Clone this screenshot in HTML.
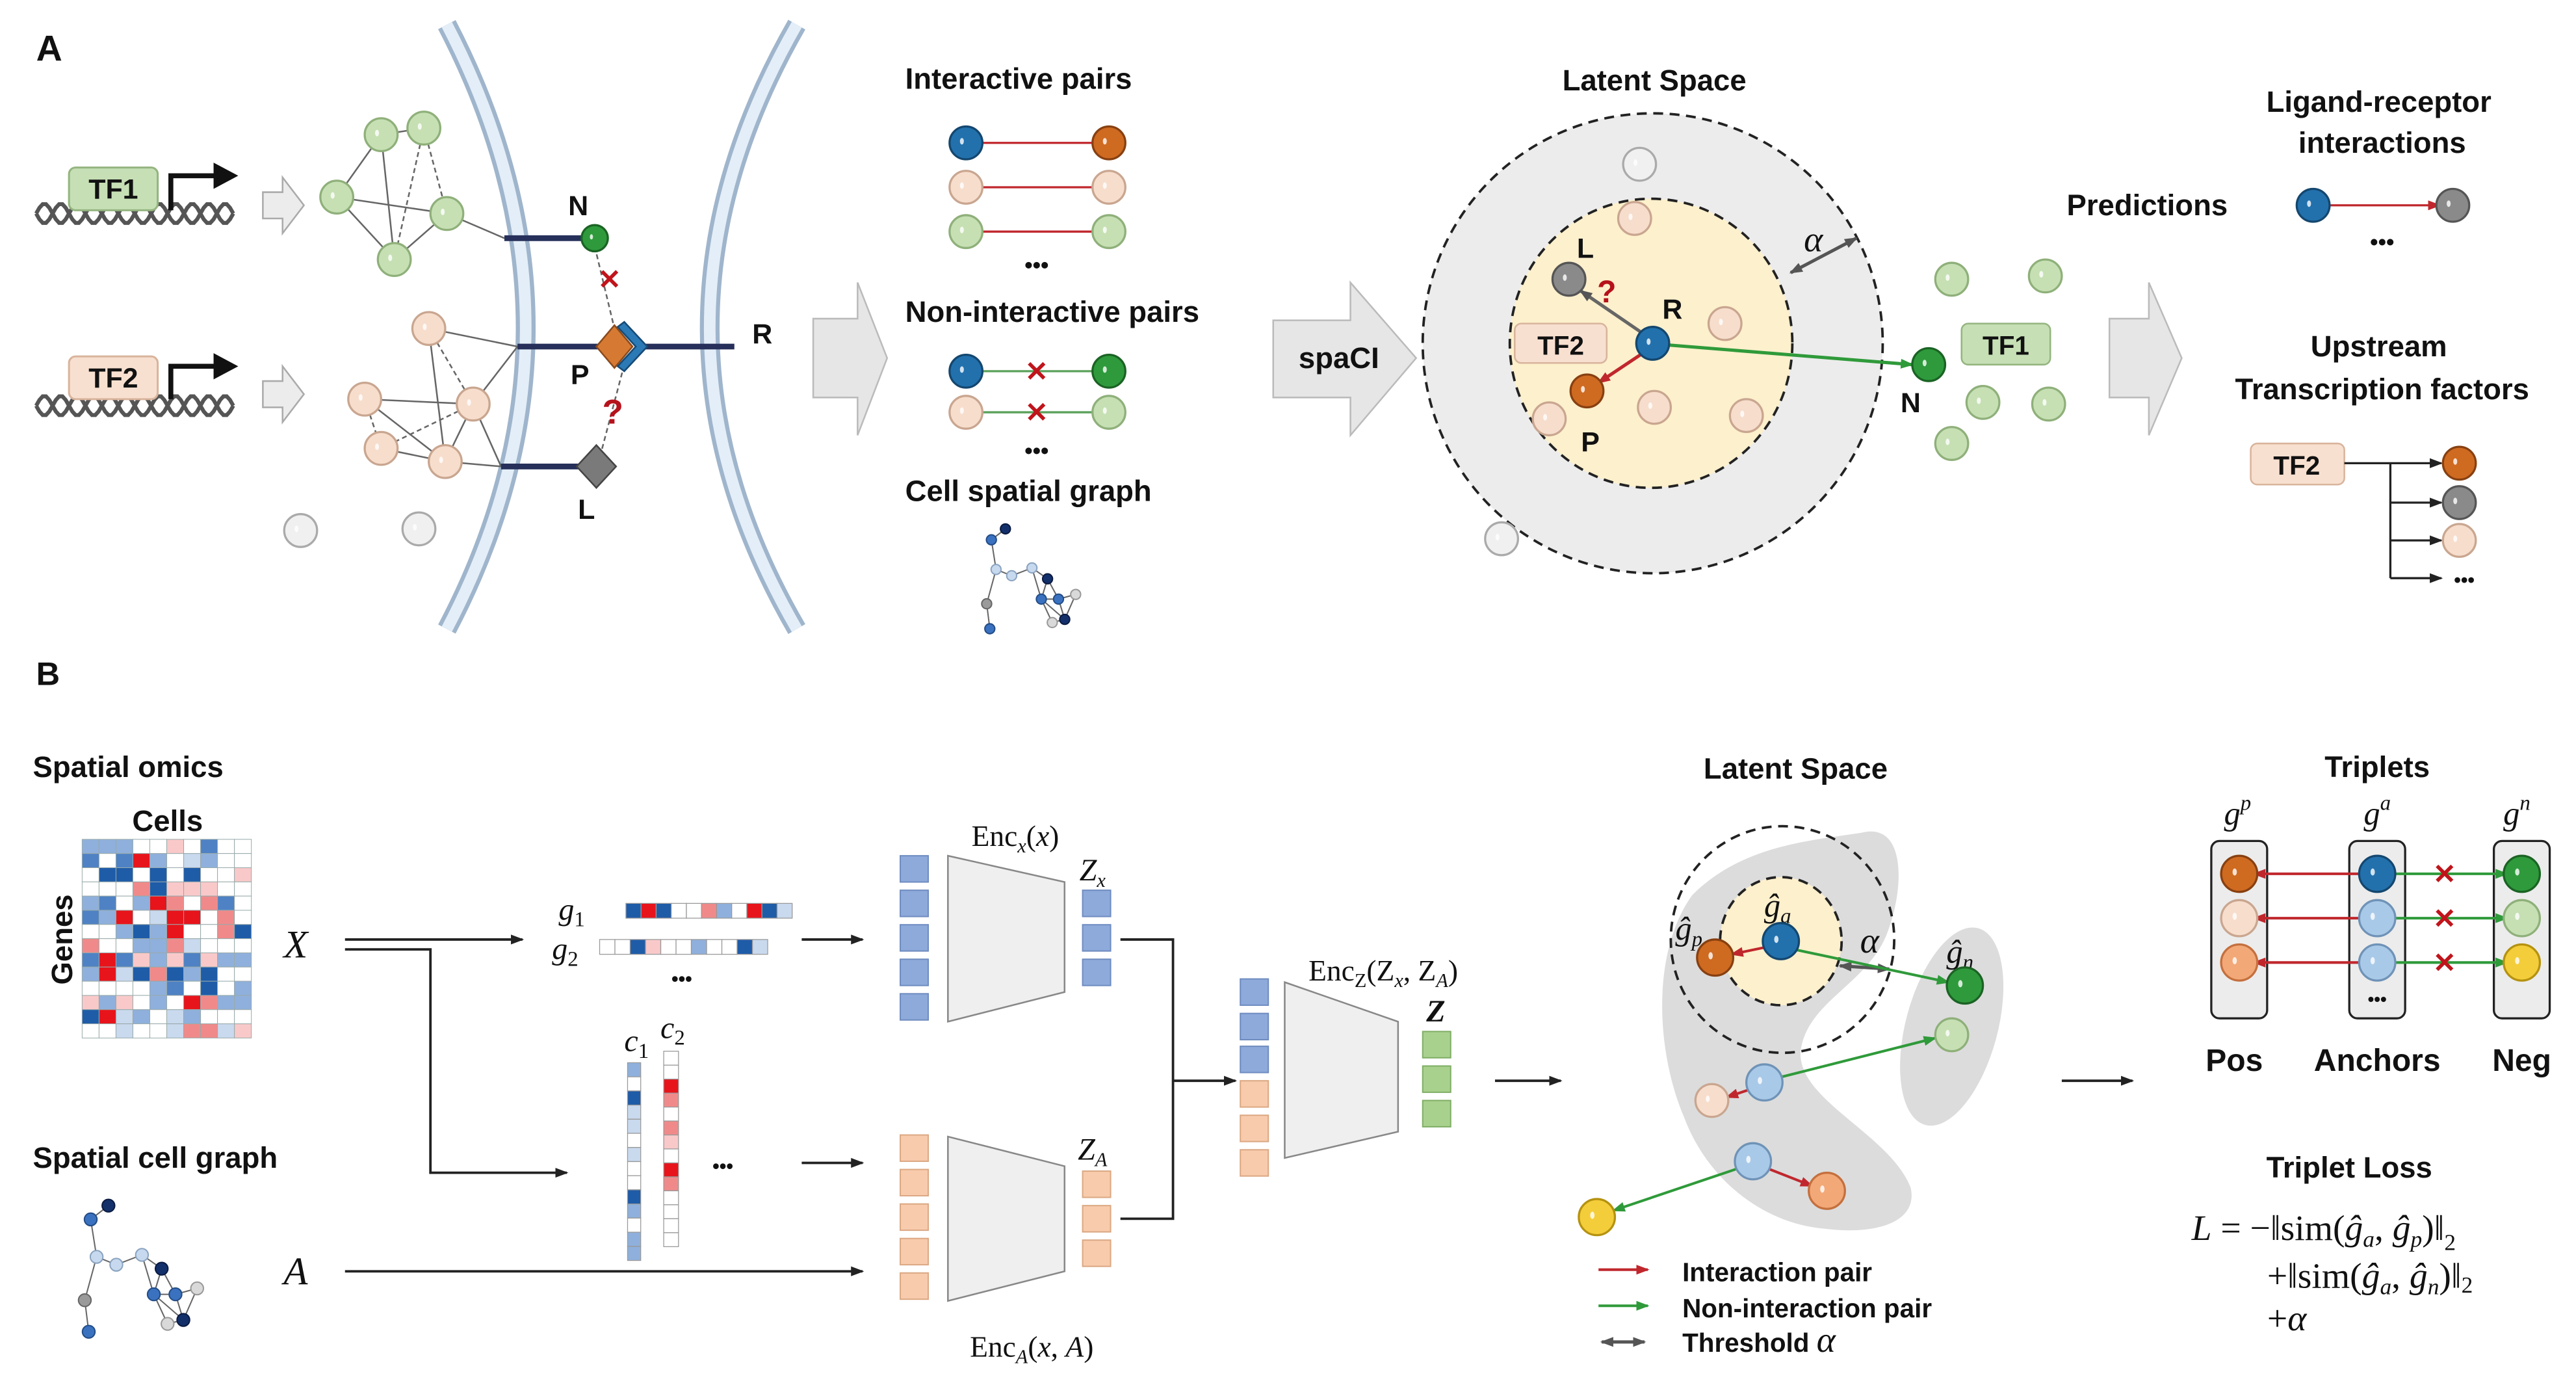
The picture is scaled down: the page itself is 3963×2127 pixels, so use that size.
<!DOCTYPE html>
<html><head><meta charset="utf-8"><style>
html,body{margin:0;padding:0;background:#fff;}
svg{display:block;}
.t{font-family:"Liberation Sans",Arial,sans-serif;font-weight:bold;fill:#111;}
.m{font-family:"Liberation Serif","DejaVu Serif",serif;font-style:italic;fill:#111;}
.r{font-family:"Liberation Serif","DejaVu Serif",serif;fill:#111;}
</style></head><body>
<svg id="s" width="3963" height="2127" viewBox="0 0 1568 842" preserveAspectRatio="none" xmlns="http://www.w3.org/2000/svg">
<defs>
<marker id="ak" markerWidth="8" markerHeight="8" refX="7" refY="4" orient="auto" markerUnits="userSpaceOnUse"><path d="M0,1 L8,4 L0,7z" fill="#222"/></marker>
<marker id="ar" markerWidth="8" markerHeight="8" refX="7" refY="4" orient="auto" markerUnits="userSpaceOnUse"><path d="M0,1 L8,4 L0,7z" fill="#c0272d"/></marker>
<marker id="ag" markerWidth="8" markerHeight="8" refX="7" refY="4" orient="auto" markerUnits="userSpaceOnUse"><path d="M0,1 L8,4 L0,7z" fill="#2f9a3a"/></marker>
<marker id="ay" markerWidth="8" markerHeight="8" refX="7" refY="4" orient="auto" markerUnits="userSpaceOnUse"><path d="M0,1 L8,4 L0,7z" fill="#555"/></marker>
<marker id="ays" markerWidth="8" markerHeight="8" refX="1" refY="4" orient="auto" markerUnits="userSpaceOnUse"><path d="M8,1 L0,4 L8,7z" fill="#555"/></marker>
</defs>

<text class="t" x="22" y="37" font-size="22">A</text>
<g id="dna" fill="none" stroke="#555" stroke-width="2.4"></g>
<rect x="42" y="102" width="54" height="26" rx="4" fill="#c6dfb5" stroke="#94b57f" stroke-width="1.2"/>
<text class="t" x="69" y="121" font-size="17" text-anchor="middle">TF1</text>
<path d="M104,128 V107 H132" fill="none" stroke="#111" stroke-width="3"/><path d="M130,99 L145,107 L130,115z" fill="#111"/>
<rect x="42" y="217" width="54" height="26" rx="4" fill="#f8e0d0" stroke="#d8b49c" stroke-width="1.2"/>
<text class="t" x="69" y="236" font-size="17" text-anchor="middle">TF2</text>
<path d="M104,243 V223 H132" fill="none" stroke="#111" stroke-width="3"/><path d="M130,215 L145,223 L130,231z" fill="#111"/>
<path d="M160,117 H172 V108 L185,125 L172,142 V133 H160z" fill="#ececec" stroke="#aaa" stroke-width="1"/>
<path d="M160,232 H172 V223 L185,240 L172,257 V248 H160z" fill="#ececec" stroke="#aaa" stroke-width="1"/>

<g fill="none">
<path d="M272,15 Q368,200 272,383" stroke="#9fb5cc" stroke-width="12"/>
<path d="M272,15 Q368,200 272,383" stroke="#e4eef8" stroke-width="7"/>
<path d="M485,15 Q379,200 485,383" stroke="#9fb5cc" stroke-width="12"/>
<path d="M485,15 Q379,200 485,383" stroke="#e4eef8" stroke-width="7"/>
</g>
<g stroke="#666" stroke-width="1" fill="none">
<line x1="232" y1="82" x2="258" y2="78"/><line x1="232" y1="82" x2="205" y2="120"/><line x1="232" y1="82" x2="240" y2="158"/>
<line x1="258" y1="78" x2="272" y2="130" stroke-dasharray="3,2"/><line x1="258" y1="78" x2="240" y2="158" stroke-dasharray="3,2"/>
<line x1="205" y1="120" x2="272" y2="130"/><line x1="205" y1="120" x2="240" y2="158"/><line x1="272" y1="130" x2="240" y2="158"/>
<line x1="272" y1="130" x2="307" y2="145"/>
<line x1="261" y1="200" x2="315" y2="211"/><line x1="261" y1="200" x2="288" y2="246" stroke-dasharray="3,2"/><line x1="261" y1="200" x2="271" y2="281"/>
<line x1="222" y1="243" x2="288" y2="246"/><line x1="222" y1="243" x2="232" y2="273" stroke-dasharray="3,2"/><line x1="222" y1="243" x2="271" y2="281"/>
<line x1="288" y1="246" x2="232" y2="273" stroke-dasharray="3,2"/><line x1="288" y1="246" x2="315" y2="211"/><line x1="288" y1="246" x2="271" y2="281"/><line x1="288" y1="246" x2="305" y2="284"/>
<line x1="232" y1="273" x2="271" y2="281"/><line x1="271" y1="281" x2="305" y2="284"/>
</g>
<g stroke="#26305a" stroke-width="3.5">
<line x1="307" y1="145" x2="355" y2="145"/><line x1="315" y1="211" x2="366" y2="211"/><line x1="392" y1="211" x2="447" y2="211"/><line x1="305" y1="284" x2="354" y2="284"/>
</g>
<line x1="362" y1="150" x2="374" y2="200" stroke="#666" stroke-dasharray="3,2"/>
<line x1="380" y1="222" x2="366" y2="275" stroke="#666" stroke-dasharray="3,2"/>
<path d="M374,198 L385,211 L374,224 L363,211z" fill="#d67a33" stroke="#8a4a1c"/>
<path d="M380,196 L394,211 L380,226 L376,223 L387,211 L376,199z" fill="#2b79b5" stroke="#164a75"/>
<path d="M363,271 L375,284 L363,297 L351,284z" fill="#7a7a7a" stroke="#444"/>
<text class="t" x="352" y="131" font-size="17" text-anchor="middle">N</text>
<text class="t" x="464" y="209" font-size="17" text-anchor="middle">R</text>
<text class="t" x="353" y="234" font-size="17" text-anchor="middle">P</text>
<text class="t" x="357" y="316" font-size="17" text-anchor="middle">L</text>
<text class="t" x="371" y="176" font-size="17" style="fill:#c0141b" text-anchor="middle">✕</text>
<text class="t" x="373" y="258" font-size="21" style="fill:#b5121b" text-anchor="middle">?</text>

<path d="M495,194 H522 V172 L540,218 L522,265 V242 H495z" fill="#e6e6e6" stroke="#bbb"/>
<path d="M775,195 H822 V172 L862,218 L822,265 V242 H775z" fill="#e6e6e6" stroke="#bbb"/>
<text class="t" x="815" y="224" font-size="18" text-anchor="middle">spaCI</text>
<path d="M1284,194 H1308 V172 L1328,218 L1308,265 V242 H1284z" fill="#e6e6e6" stroke="#bbb"/>

<text class="t" x="551" y="54" font-size="18">Interactive pairs</text>
<text class="t" x="551" y="196" font-size="18">Non-interactive pairs</text>
<text class="t" x="551" y="305" font-size="18">Cell spatial graph</text>
<g stroke="#c0272d" stroke-width="1.3">
<line x1="596" y1="87" x2="668" y2="87"/><line x1="596" y1="114" x2="668" y2="114"/><line x1="596" y1="141" x2="668" y2="141"/></g>
<g stroke="#5aa05a" stroke-width="1.3"><line x1="596" y1="226" x2="668" y2="226"/><line x1="596" y1="251" x2="668" y2="251"/></g>
<text class="t" x="631" y="232" font-size="17" style="fill:#c0141b" text-anchor="middle">✕</text>
<text class="t" x="631" y="257" font-size="17" style="fill:#c0141b" text-anchor="middle">✕</text>
<text class="t" x="631" y="166" font-size="14" text-anchor="middle">•••</text>
<text class="t" x="631" y="279" font-size="14" text-anchor="middle">•••</text>

<text class="t" x="1007" y="55" font-size="18" text-anchor="middle">Latent Space</text>
<ellipse cx="1006" cy="209" rx="140" ry="140" fill="#ececec" stroke="#222" stroke-width="1.5" stroke-dasharray="6,4"/>
<ellipse cx="1005" cy="209" rx="86" ry="88" fill="#fdf0cc" stroke="#222" stroke-width="1.5" stroke-dasharray="6,4"/>
<line x1="1090" y1="166" x2="1130" y2="145" stroke="#555" stroke-width="2" marker-end="url(#ay)" marker-start="url(#ays)"/>
<text class="m" x="1098" y="153" font-size="22">α</text>
<rect x="922" y="197" width="56" height="24" rx="4" fill="#f8e0d0" stroke="#d8b49c"/>
<text class="t" x="950" y="216" font-size="16" text-anchor="middle">TF2</text>
<rect x="1194" y="197" width="54" height="25" rx="4" fill="#c6dfb5" stroke="#94b57f"/>
<text class="t" x="1221" y="216" font-size="16" text-anchor="middle">TF1</text>
<line x1="1000" y1="203" x2="962" y2="177" stroke="#666" stroke-width="2" marker-end="url(#ay)"/>
<line x1="1000" y1="215" x2="973" y2="233" stroke="#c0272d" stroke-width="2" marker-end="url(#ar)"/>
<line x1="1015" y1="210" x2="1164" y2="222" stroke="#2f9a3a" stroke-width="2" marker-end="url(#ag)"/>
<text class="t" x="965" y="157" font-size="17" text-anchor="middle">L</text>
<text class="t" x="1018" y="194" font-size="17" text-anchor="middle">R</text>
<text class="t" x="968" y="275" font-size="17" text-anchor="middle">P</text>
<text class="t" x="1163" y="251" font-size="17" text-anchor="middle">N</text>
<text class="t" x="978" y="184" font-size="19" style="fill:#b5121b" text-anchor="middle">?</text>

<text class="t" x="1448" y="68" font-size="18" text-anchor="middle">Ligand-receptor</text>
<text class="t" x="1450" y="93" font-size="18" text-anchor="middle">interactions</text>
<text class="t" x="1307" y="131" font-size="18" text-anchor="middle">Predictions</text>
<line x1="1416" y1="125" x2="1485" y2="125" stroke="#c0272d" stroke-width="1.3" marker-end="url(#ar)"/>
<text class="t" x="1450" y="152" font-size="14" text-anchor="middle">•••</text>
<text class="t" x="1448" y="217" font-size="18" text-anchor="middle">Upstream</text>
<text class="t" x="1450" y="243" font-size="18" text-anchor="middle">Transcription factors</text>
<rect x="1370" y="270" width="57" height="25" rx="4" fill="#f8e0d0" stroke="#d8b49c"/>
<text class="t" x="1398" y="289" font-size="16" text-anchor="middle">TF2</text>
<g stroke="#222" stroke-width="1.3" fill="none">
<line x1="1427" y1="282" x2="1486" y2="282" marker-end="url(#ak)"/>
<line x1="1455" y1="282" x2="1455" y2="352"/>
<line x1="1455" y1="306" x2="1486" y2="306" marker-end="url(#ak)"/>
<line x1="1455" y1="329" x2="1486" y2="329" marker-end="url(#ak)"/>
<line x1="1455" y1="352" x2="1486" y2="352" marker-end="url(#ak)"/>
</g>
<text class="t" x="1500" y="357" font-size="12" text-anchor="middle">•••</text>

<text class="t" x="22" y="417" font-size="20">B</text>
<text class="t" x="20" y="473" font-size="18">Spatial omics</text>
<text class="t" x="102" y="506" font-size="18" text-anchor="middle">Cells</text>
<text class="t" x="44" y="572" font-size="18" text-anchor="middle" transform="rotate(-90 44 572)">Genes</text>
<g id="heat"></g>
<text class="m" x="180" y="583" font-size="24" text-anchor="middle">X</text>
<text class="m" x="180" y="782" font-size="24" text-anchor="middle">A</text>
<text class="t" x="20" y="711" font-size="18">Spatial cell graph</text>
<g stroke="#222" stroke-width="1.5" fill="none">
<line x1="210" y1="572" x2="318" y2="572" marker-end="url(#ak)"/>
<path d="M210,578 H262 V714 H345" marker-end="url(#ak)"/>
<line x1="210" y1="774" x2="525" y2="774" marker-end="url(#ak)"/>
<line x1="488" y1="572" x2="525" y2="572" marker-end="url(#ak)"/>
<line x1="488" y1="708" x2="525" y2="708" marker-end="url(#ak)"/>
<path d="M682,572 H714 V742 H682"/>
<line x1="714" y1="658" x2="752" y2="658" marker-end="url(#ak)"/>
<line x1="910" y1="658" x2="950" y2="658" marker-end="url(#ak)"/>
<line x1="1255" y1="658" x2="1298" y2="658" marker-end="url(#ak)"/>
</g>
<g id="vec"></g>
<text class="m" x="340" y="560" font-size="19">g<tspan font-size="13" dy="4" font-style="normal">1</tspan></text>
<text class="m" x="336" y="584" font-size="19">g<tspan font-size="13" dy="4" font-style="normal">2</tspan></text>
<text class="t" x="415" y="600" font-size="12" text-anchor="middle">•••</text>
<text class="m" x="380" y="640" font-size="19">c<tspan font-size="13" dy="4" font-style="normal">1</tspan></text>
<text class="m" x="402" y="632" font-size="19">c<tspan font-size="13" dy="4" font-style="normal">2</tspan></text>
<text class="t" x="440" y="714" font-size="12" text-anchor="middle">•••</text>

<path d="M577,521 L648,537 L648,604 L577,622z" fill="#efefef" stroke="#888"/>
<path d="M577,692 L648,710 L648,774 L577,792z" fill="#efefef" stroke="#888"/>
<path d="M782,598 L851,622 L851,689 L782,705z" fill="#efefef" stroke="#888"/>
<g id="blocks"></g>
<text class="r" x="618" y="515" font-size="18" text-anchor="middle">Enc<tspan class="m" font-size="12" dy="4">x</tspan><tspan dy="-4">(</tspan><tspan class="m">x</tspan>)</text>
<text class="m" x="665" y="536" font-size="19" text-anchor="middle">Z<tspan font-size="12" dy="4">x</tspan></text>
<text class="m" x="665" y="706" font-size="19" text-anchor="middle">Z<tspan font-size="12" dy="4">A</tspan></text>
<text class="r" x="628" y="826" font-size="18" text-anchor="middle">Enc<tspan class="m" font-size="12" dy="4">A</tspan><tspan dy="-4">(</tspan><tspan class="m">x</tspan>, <tspan class="m">A</tspan>)</text>
<text class="r" x="842" y="597" font-size="18" text-anchor="middle">Enc<tspan font-size="12" dy="4">Z</tspan><tspan dy="-4">(Z</tspan><tspan class="m" font-size="12" dy="4">x</tspan><tspan dy="-4">, Z</tspan><tspan class="m" font-size="12" dy="4">A</tspan><tspan dy="-4">)</tspan></text>
<text class="m" x="874" y="622" font-size="19" text-anchor="middle" font-weight="bold">Z</text>

<text class="t" x="1093" y="474" font-size="18" text-anchor="middle">Latent Space</text>
<path d="M1133,507 C1160,500 1160,540 1148,570 C1135,600 1100,610 1096,640 C1094,670 1150,690 1163,723 C1168,745 1140,752 1110,748 C1075,745 1040,720 1025,680 C1008,640 1005,580 1030,545 C1060,515 1100,512 1133,507z" fill="#dcdcdc"/>
<ellipse cx="1188" cy="625" rx="28" ry="62" transform="rotate(15 1188 625)" fill="#dcdcdc"/>
<ellipse cx="1085" cy="572" rx="68" ry="69" fill="none" stroke="#222" stroke-width="1.5" stroke-dasharray="6,4"/>
<ellipse cx="1084" cy="573" rx="37" ry="39" fill="#fdf0cc" stroke="#222" stroke-width="1.5" stroke-dasharray="6,4"/>
<line x1="1120" y1="588" x2="1150" y2="590" stroke="#555" stroke-width="2" marker-end="url(#ay)" marker-start="url(#ays)"/>
<line x1="1078" y1="576" x2="1054" y2="581" stroke="#c0272d" stroke-width="1.6" marker-end="url(#ar)"/>
<line x1="1092" y1="578" x2="1186" y2="598" stroke="#2f9a3a" stroke-width="1.6" marker-end="url(#ag)"/>
<line x1="1083" y1="656" x2="1178" y2="632" stroke="#2f9a3a" stroke-width="1.6" marker-end="url(#ag)"/>
<line x1="1066" y1="663" x2="1051" y2="668" stroke="#c0272d" stroke-width="1.6" marker-end="url(#ar)"/>
<line x1="1075" y1="711" x2="1103" y2="722" stroke="#c0272d" stroke-width="1.6" marker-end="url(#ar)"/>
<line x1="1059" y1="711" x2="982" y2="737" stroke="#2f9a3a" stroke-width="1.6" marker-end="url(#ag)"/>
<text class="m" x="1082" y="558" font-size="20" text-anchor="middle">ĝ<tspan font-size="13" dy="4">a</tspan></text>
<text class="m" x="1028" y="572" font-size="20" text-anchor="middle">ĝ<tspan font-size="13" dy="4">p</tspan></text>
<text class="m" x="1138" y="580" font-size="22" text-anchor="middle">α</text>
<text class="m" x="1193" y="586" font-size="20" text-anchor="middle">ĝ<tspan font-size="13" dy="4">n</tspan></text>
<line x1="973" y1="773" x2="1003" y2="773" stroke="#c0272d" stroke-width="1.6" marker-end="url(#ar)"/>
<line x1="973" y1="795" x2="1003" y2="795" stroke="#2f9a3a" stroke-width="1.6" marker-end="url(#ag)"/>
<line x1="975" y1="817" x2="1001" y2="817" stroke="#555" stroke-width="2" marker-end="url(#ay)" marker-start="url(#ays)"/>
<text class="t" x="1024" y="780" font-size="16">Interaction pair</text>
<text class="t" x="1024" y="802" font-size="16">Non-interaction pair</text>
<text class="t" x="1024" y="823" font-size="16">Threshold <tspan class="m" font-weight="normal" font-size="22">α</tspan></text>

<text class="t" x="1447" y="473" font-size="18" text-anchor="middle">Triplets</text>
<text class="m" x="1362" y="502" font-size="20" text-anchor="middle">g<tspan font-size="13" dy="-9">p</tspan></text>
<text class="m" x="1447" y="502" font-size="20" text-anchor="middle">g<tspan font-size="13" dy="-9">a</tspan></text>
<text class="m" x="1532" y="502" font-size="20" text-anchor="middle">g<tspan font-size="13" dy="-9">n</tspan></text>
<rect x="1346" y="512" width="34" height="108" rx="5" fill="#ececec" stroke="#222" stroke-width="1.3"/>
<rect x="1430" y="512" width="34" height="108" rx="5" fill="#ececec" stroke="#222" stroke-width="1.3"/>
<rect x="1518" y="512" width="34" height="108" rx="5" fill="#ececec" stroke="#222" stroke-width="1.3"/>
<g stroke-width="1.6">
<line x1="1438" y1="532" x2="1372" y2="532" stroke="#c0272d" marker-end="url(#ar)"/>
<line x1="1438" y1="559" x2="1372" y2="559" stroke="#c0272d" marker-end="url(#ar)"/>
<line x1="1438" y1="586" x2="1372" y2="586" stroke="#c0272d" marker-end="url(#ar)"/>
<line x1="1456" y1="532" x2="1526" y2="532" stroke="#2f9a3a" marker-end="url(#ag)"/>
<line x1="1456" y1="559" x2="1526" y2="559" stroke="#2f9a3a" marker-end="url(#ag)"/>
<line x1="1456" y1="586" x2="1526" y2="586" stroke="#2f9a3a" marker-end="url(#ag)"/>
</g>
<text class="t" x="1488" y="538" font-size="17" style="fill:#c0141b" text-anchor="middle">✕</text>
<text class="t" x="1488" y="565" font-size="17" style="fill:#c0141b" text-anchor="middle">✕</text>
<text class="t" x="1488" y="592" font-size="17" style="fill:#c0141b" text-anchor="middle">✕</text>
<text class="t" x="1447" y="612" font-size="11" text-anchor="middle">•••</text>
<text class="t" x="1360" y="652" font-size="19" text-anchor="middle">Pos</text>
<text class="t" x="1447" y="652" font-size="19" text-anchor="middle">Anchors</text>
<text class="t" x="1535" y="652" font-size="19" text-anchor="middle">Neg</text>
<text class="t" x="1430" y="717" font-size="18" text-anchor="middle">Triplet Loss</text>
<text class="r" x="1334" y="755" font-size="22"><tspan class="m">L</tspan> = −‖sim(<tspan class="m">ĝ</tspan><tspan class="m" font-size="14" dy="4">a</tspan><tspan dy="-4">, </tspan><tspan class="m">ĝ</tspan><tspan class="m" font-size="14" dy="4">p</tspan><tspan dy="-4">)‖</tspan><tspan font-size="14" dy="6">2</tspan></text>
<text class="r" x="1380" y="784" font-size="22">+‖sim(<tspan class="m">ĝ</tspan><tspan class="m" font-size="14" dy="4">a</tspan><tspan dy="-4">, </tspan><tspan class="m">ĝ</tspan><tspan class="m" font-size="14" dy="4">n</tspan><tspan dy="-4">)‖</tspan><tspan font-size="14" dy="3">2</tspan></text>
<text class="r" x="1380" y="810" font-size="22">+<tspan class="m">α</tspan></text>

<g id="nodes"></g>
</svg>
<script>
var NS="http://www.w3.org/2000/svg";
function el(p,t,a){var e=document.createElementNS(NS,t);for(var k in a)e.setAttribute(k,a[k]);p.appendChild(e);return e;}
var dna=document.getElementById('dna');
[130,247].forEach(function(cy){
 for(var ph=0;ph<2;ph++){var d='';for(var x=22;x<=142;x+=2){var y=cy+6*Math.sin((x-22)/10*Math.PI+ph*Math.PI);d+=(x==22?'M':'L')+x+','+y.toFixed(1);}
 el(dna,'path',{d:d});}
});
var C={b:['#2271ad','#14476f'],o:['#cf6a21','#874011'],g:['#8a8a8a','#555'],pe:['#f7ddcc','#c9a690'],lg:['#c6e0b4','#8fb07a'],dg:['#2e9a3c','#1b6324'],lb:['#a9c9e8','#6f93b7'],y:['#f4cd3a','#b59210'],lo:['#f3a878','#c4703e'],w:['#f0f0f0','#aaa'],nv:['#13306b','#0a1a40'],mb:['#3a72c0','#234c86'],gr:['#9a9a9a','#666'],vl:['#c7d9ee','#8aa3c0'],lgr:['#d9d9d9','#999']};
var ng=document.getElementById('nodes');
function N(x,y,r,c){var k=C[c];el(ng,'circle',{cx:x,cy:y,r:r,fill:k[0],stroke:k[1],'stroke-width':r>6?1.3:0.8});if(r>6)el(ng,'ellipse',{cx:x-r*0.25,cy:y-r*0.1,rx:r*0.12,ry:r*0.2,fill:'#fff',opacity:0.8});}
[[232,82],[258,78],[205,120],[272,130],[240,158]].forEach(function(p){N(p[0],p[1],10,'lg')});
[[261,200],[222,243],[288,246],[232,273],[271,281]].forEach(function(p){N(p[0],p[1],10,'pe')});
N(362,145,8,'dg');N(183,323,10,'w');N(255,322,10,'w');
N(588,87,10,'b');N(675,87,10,'o');N(588,114,10,'pe');N(675,114,10,'pe');N(588,141,10,'lg');N(675,141,10,'lg');
N(588,226,10,'b');N(675,226,10,'dg');N(588,251,10,'pe');N(675,251,10,'lg');
N(998,100,10,'w');N(914,328,10,'w');N(995,133,10,'pe');N(1050,197,10,'pe');N(1007,248,10,'pe');N(1063,253,10,'pe');N(943,255,10,'pe');
N(955,170,10,'g');N(966,238,10,'o');N(1006,209,10,'b');N(1174,222,10,'dg');
[[1188,170],[1245,168],[1207,245],[1247,246],[1188,270]].forEach(function(p){N(p[0],p[1],10,'lg')});
N(1408,125,10,'b');N(1493,125,10,'g');
N(1497,282,10,'o');N(1497,306,10,'g');N(1497,329,10,'pe');
function G(ox,oy,s){var pts=[[0,0,'nv'],[-9,7,'mb'],[-6,26,'vl'],[4,30,'vl'],[17,25,'vl'],[27,32,'nv'],[23,45,'mb'],[34,45,'mb'],[45,42,'lgr'],[38,58,'nv'],[30,60,'lgr'],[-12,48,'gr'],[-10,64,'mb']];
 var E=[[0,1],[1,2],[2,3],[3,4],[4,5],[4,6],[5,6],[5,7],[6,7],[7,8],[7,9],[6,9],[6,10],[9,10],[8,9],[2,11],[11,12]];
 E.forEach(function(e){var a=pts[e[0]],b=pts[e[1]];el(ng,'line',{x1:ox+a[0]*s,y1:oy+a[1]*s,x2:ox+b[0]*s,y2:oy+b[1]*s,stroke:'#666','stroke-width':0.8});});
 pts.forEach(function(p){N(ox+p[0]*s,oy+p[1]*s,3.2*s,p[2]);});}
G(612,322,0.95);G(66,734,1.2);
N(1084,573,11,'b');N(1044,583,11,'o');N(1196,600,11,'dg');N(1188,630,10,'lg');N(1074,659,11,'lb');N(1042,670,10,'pe');N(1067,707,11,'lb');N(1112,725,11,'lo');N(972,741,11,'y');
N(1363,532,11,'o');N(1363,559,11,'pe');N(1363,586,11,'lo');N(1447,532,11,'b');N(1447,559,11,'lb');N(1447,586,11,'lb');N(1535,532,11,'dg');N(1535,559,11,'lg');N(1535,586,11,'y');
var hm=document.getElementById('heat'),seed=7;function R(){seed=(seed*9301+49297)%233280;return seed/233280;}
var pal=['#ffffff','#ffffff','#ffffff','#c9d9ee','#8fb0dc','#4f82c4','#1f5ca8','#f9c9c9','#f08a8a','#e8141b'];
for(var i=0;i<10;i++)for(var j=0;j<14;j++)el(hm,'rect',{x:50+i*10.3,y:511+j*8.64,width:10.3,height:8.64,fill:pal[Math.floor(R()*pal.length)],stroke:'#9aa',"stroke-width":0.4});
var vg=document.getElementById('vec');
function vec(x,y,w,h,n,horiz,cols){for(var i=0;i<n;i++){var a=horiz?{x:x+i*w,y:y,width:w,height:h}:{x:x,y:y+i*h,width:w,height:h};a.fill=cols[i]||'#fff';a.stroke='#999';a['stroke-width']=0.5;el(vg,'rect',a);}}
vec(381,550,9.2,9,11,1,['#1f5ca8','#e8141b','#1f5ca8','','','#f08a8a','#8fb0dc','','#e8141b','#1f5ca8','#c9d9ee']);
vec(365,572,9.3,9,11,1,['','','#1f5ca8','#f9c9c9','','','#8fb0dc','','','#1f5ca8','#c9d9ee']);
vec(382,647,8,8.6,14,0,['#8fb0dc','','#1f5ca8','#c9d9ee','#c9d9ee','','#c9d9ee','','','#1f5ca8','#8fb0dc','','#8fb0dc','#8fb0dc']);
vec(404,640,9,8.5,14,0,['','','#e8141b','#f08a8a','','#f08a8a','#f9c9c9','','#e8141b','#f08a8a','','','','']);
var bg=document.getElementById('blocks');
function B(x,ys,c,s){ys.forEach(function(y){el(bg,'rect',{x:x,y:y,width:17,height:16,fill:c,stroke:s,'stroke-width':0.8});});}
B(548,[521,542,563,584,605],'#8eaadb','#6f8cc0');B(659,[542,563,584],'#8eaadb','#6f8cc0');
B(548,[691,712,733,754,775],'#f8cbad','#dba883');B(659,[713,734,755],'#f8cbad','#dba883');
B(755,[596,617,637],'#8eaadb','#6f8cc0');B(755,[658,679,700],'#f8cbad','#dba883');
B(866,[628,649,670],'#a9d18e','#7fae65');
</script>
</body></html>
